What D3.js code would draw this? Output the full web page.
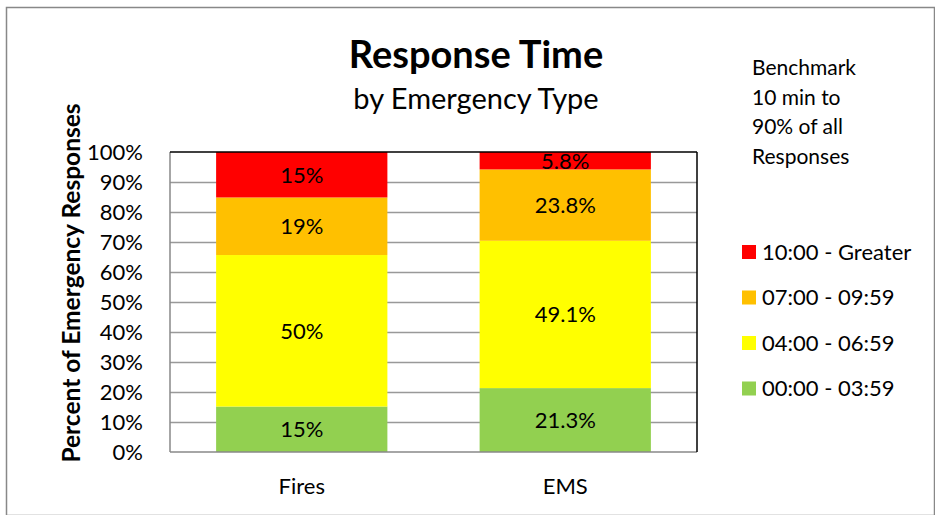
<!DOCTYPE html>
<html>
<head>
	<meta charset="utf-8">
	<script src="https://d3js.org/d3.v7.min.js"></script>
	<style type="text/css">
		body { margin: 0; background: #fff; }
		text { font-family: Lato, "Open Sans", sans-serif; fill: #000; }
	</style>
</head>
<body>
<script>
    // chart data
    var categories = ["Fires", "EMS"];
    var bands = ["00:00 - 03:59", "04:00 - 06:59", "07:00 - 09:59", "10:00 - Greater"];
    var firesValues = [15, 50, 19, 15];
    var emsValues = [21.3, 49.1, 23.8, 5.8];
    var firesLabels = ["15%", "50%", "19%", "15%"];
    var emsLabels = ["21.3%", "49.1%", "23.8%", "5.8%"];
    var yTicks = [0, 0.1, 0.2, 0.3, 0.4, 0.5, 0.6, 0.7, 0.8, 0.9, 1];
    var benchmarkLines = ["Benchmark", "10 min to", "90% of all", "Responses"];
    var colors = ["#92D050", "#FFFF00", "#FFC000", "#FF0000"];

    var width = 935, height = 515;
    var plot = {left: 170, top: 152, right: 697, bottom: 452};

    var svg = d3.select("body").append("svg")
        .attr("width", width)
        .attr("height", height);

    // outer chart border
    svg.append("rect")
        .attr("x", 6.5).attr("y", 7.5)
        .attr("width", width - 7).attr("height", height - 7)
        .style("fill", "none")
        .style("stroke", "#888")
        .style("stroke-width", 1.5);

    var x = d3.scaleBand()
        .domain(categories)
        .range([plot.left, plot.right])
        .paddingInner(0.35)
        .paddingOuter(0.175);

    var y = d3.scaleLinear()
        .domain([0, 1])
        .range([plot.bottom, plot.top]);

    // build rows and stack them as 100%
    var rows = [firesValues, emsValues].map(function(vals, i) {
        var r = {cat: categories[i]};
        bands.forEach(function(b, j) { r[b] = vals[j]; });
        return r;
    });
    var labelsByCat = {Fires: firesLabels, EMS: emsLabels};

    var stack = d3.stack().keys(bands).offset(d3.stackOffsetExpand);
    var series = stack(rows);

    // gridlines
    svg.append("g")
        .selectAll("line")
        .data(yTicks.slice(1, -1))
        .enter().append("line")
        .attr("x1", plot.left).attr("x2", plot.right)
        .attr("y1", function(d) { return Math.round(y(d)) + 0.5; })
        .attr("y2", function(d) { return Math.round(y(d)) + 0.5; })
        .style("stroke", "#999")
        .style("stroke-width", 1.5);

    // bars
    var layer = svg.append("g").selectAll("g")
        .data(series)
        .enter().append("g")
        .style("fill", function(d, i) { return colors[i]; });

    layer.selectAll("rect")
        .data(function(d) { return d; })
        .enter().append("rect")
        .attr("x", function(d) { return x(d.data.cat); })
        .attr("y", function(d) { return y(d[1]); })
        .attr("height", function(d) { return y(d[0]) - y(d[1]); })
        .attr("width", x.bandwidth());

    // data labels
    series.forEach(function(s, i) {
        svg.append("g").selectAll("text")
            .data(s)
            .enter().append("text")
            .attr("x", function(d) { return x(d.data.cat) + x.bandwidth() / 2; })
            .attr("y", function(d) { return (y(d[0]) + y(d[1])) / 2; })
            .attr("dy", "0.36em")
            .attr("text-anchor", "middle")
            .style("font-size", "22px")
            .text(function(d) { return labelsByCat[d.data.cat][i]; });
    });

    // plot frame: gray left/bottom, dark top/right
    svg.append("line")
        .attr("x1", plot.left).attr("x2", plot.left)
        .attr("y1", plot.top).attr("y2", plot.bottom)
        .style("stroke", "#888").style("stroke-width", 1.5);
    svg.append("line")
        .attr("x1", plot.left).attr("x2", plot.right)
        .attr("y1", plot.bottom).attr("y2", plot.bottom)
        .style("stroke", "#888").style("stroke-width", 1.5);
    svg.append("line")
        .attr("x1", plot.left).attr("x2", plot.right)
        .attr("y1", plot.top).attr("y2", plot.top)
        .style("stroke", "#000").style("stroke-width", 1.5);
    svg.append("line")
        .attr("x1", plot.right).attr("x2", plot.right)
        .attr("y1", plot.top).attr("y2", plot.bottom)
        .style("stroke", "#000").style("stroke-width", 1.5);

    // y axis
    var yAxis = svg.append("g")
        .attr("transform", "translate(" + (plot.left - 24) + ",0)")
        .call(d3.axisLeft(y).tickValues(yTicks).tickFormat(d3.format(".0%")).tickSize(0));
    yAxis.select(".domain").remove();
    yAxis.selectAll("text")
        .style("font-family", "Lato, sans-serif")
        .style("font-size", "22px")
        .attr("dy", "0.36em");

    // x axis labels
    var xAxis = svg.append("g")
        .attr("transform", "translate(0," + plot.bottom + ")")
        .call(d3.axisBottom(x).tickSize(0));
    xAxis.select(".domain").remove();
    xAxis.selectAll("text")
        .style("font-family", "Lato, sans-serif")
        .style("font-size", "22px")
        .attr("y", 42)
        .attr("dy", "0");

    // y axis title
    svg.append("text")
        .attr("transform", "translate(80,283) rotate(-90)")
        .attr("text-anchor", "middle")
        .style("font-size", "24.5px")
        .style("font-weight", "bold")
        .text("Percent of Emergency Responses");

    // titles
    svg.append("text")
        .attr("x", 476).attr("y", 68)
        .attr("text-anchor", "middle")
        .style("font-size", "38px")
        .style("font-weight", "bold")
        .text("Response Time");
    svg.append("text")
        .attr("x", 476).attr("y", 109)
        .attr("text-anchor", "middle")
        .style("font-size", "29px")
        .text("by Emergency Type");

    // benchmark note
    svg.append("g").selectAll("text")
        .data(benchmarkLines)
        .enter().append("text")
        .attr("x", 752)
        .attr("y", function(d, i) { return 75 + i * 29.5; })
        .style("font-size", "21px")
        .text(function(d) { return d; });

    // legend (reverse order, red on top)
    var legend = svg.append("g").selectAll("g")
        .data(bands.slice().reverse())
        .enter().append("g")
        .attr("transform", function(d, i) { return "translate(742," + (252 + i * 45.5) + ")"; });
    legend.append("rect")
        .attr("x", 0).attr("y", -7)
        .attr("width", 14).attr("height", 14)
        .style("fill", function(d, i) { return colors[3 - i]; });
    legend.append("text")
        .attr("x", 20).attr("dy", "0.36em")
        .style("font-size", "22px")
        .text(function(d) { return d; });
</script>
</body>
</html>
